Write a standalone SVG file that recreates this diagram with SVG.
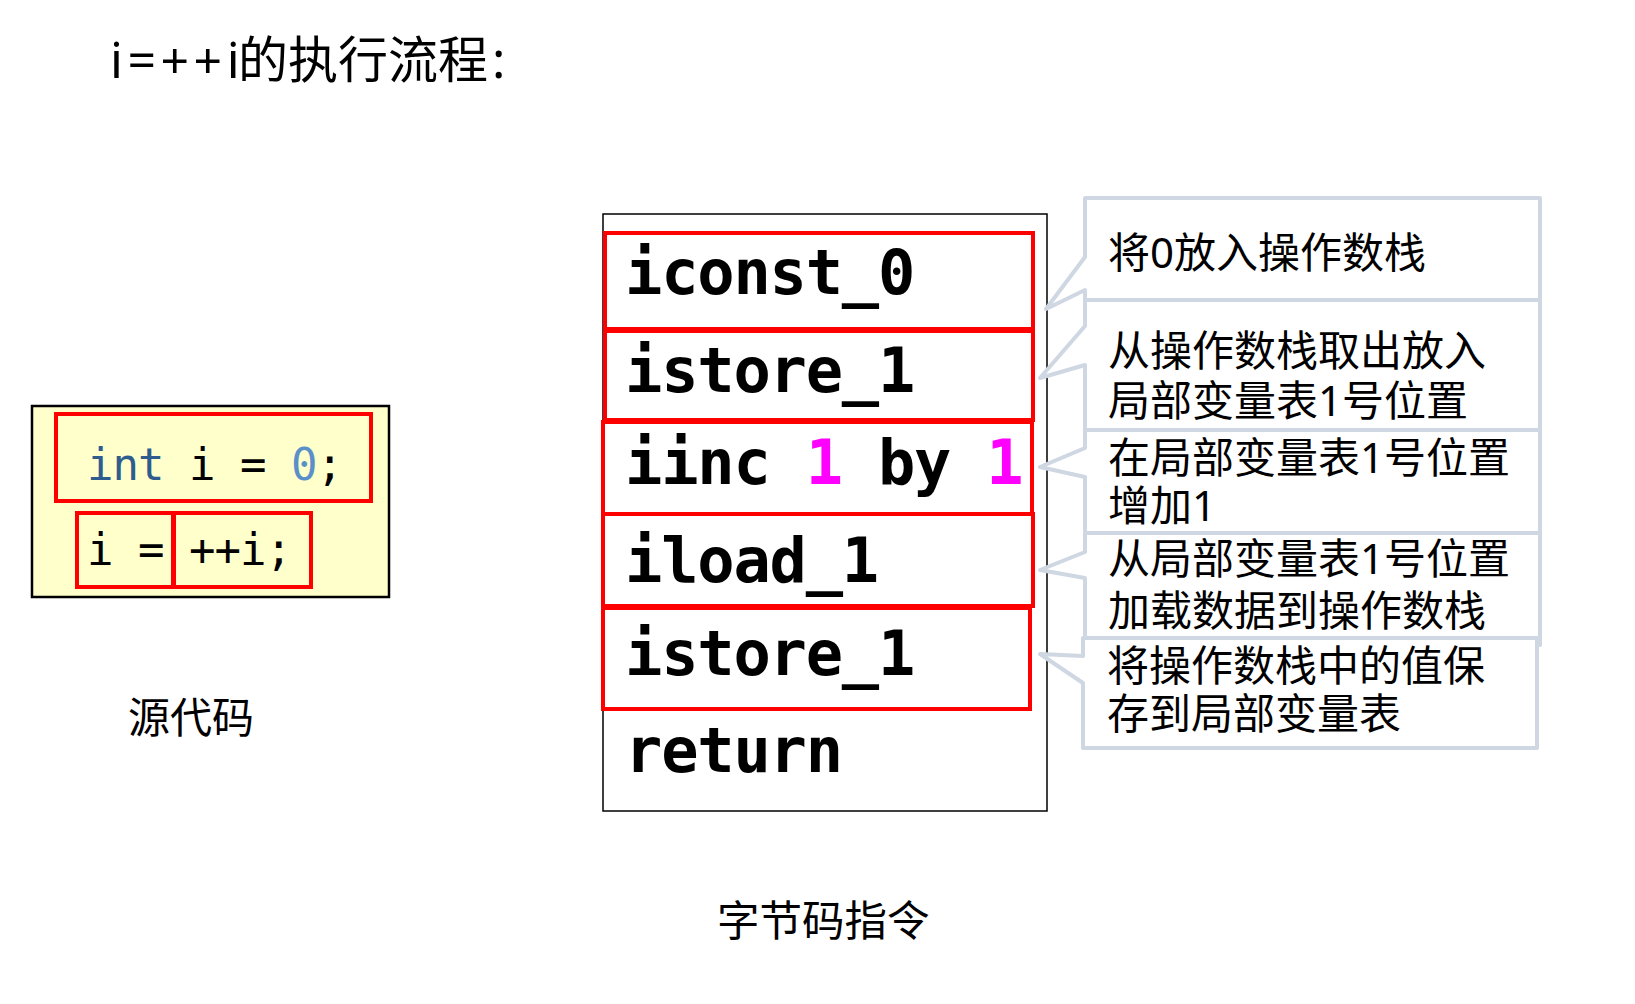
<svg xmlns="http://www.w3.org/2000/svg" width="1635" height="1004" viewBox="0 0 1635 1004">
<style>
.cjk{font-family:"Noto Sans","Noto Sans CJK SC",sans-serif;fill:#000}
.code{font-family:"DejaVu Sans Mono","Liberation Mono",monospace;font-size:44px;letter-spacing:-1px;fill:#000}
.bc{font-family:"DejaVu Sans Mono","Liberation Mono",monospace;font-size:62px;font-weight:bold;letter-spacing:-1.2px;fill:#000}
.red{fill:none;stroke:#FF0000;stroke-width:4}
.call{fill:#fff;stroke:#CFD7E2;stroke-width:4;stroke-linejoin:round}
.ct{font-family:"Noto Sans","Noto Sans CJK SC",sans-serif;font-size:42px;fill:#000}
</style>
<rect width="1635" height="1004" fill="#fff"/>
<text id="title" class="cjk" x="110" y="78" font-size="50"><tspan letter-spacing="4.5">i=++i</tspan><tspan x="238">的执行流程</tspan><tspan dx="4">:</tspan></text>

<g id="source">
  <rect x="32" y="406" width="357" height="191" fill="#FFFFCC" stroke="#000" stroke-width="2.5"/>
  <rect class="red" x="56" y="414" width="315" height="87"/>
  <rect class="red" x="77" y="513" width="97" height="74"/>
  <rect class="red" x="173" y="513" width="138" height="74"/>
  <text class="code" x="87" y="480"><tspan fill="#2E5C8E">int</tspan> i = <tspan fill="#5B8FC9">0</tspan>;</text>
  <text class="code" x="87" y="565">i = ++i;</text>
</g>
<text id="label-source" class="cjk" x="128" y="733" font-size="42">源代码</text>

<g id="bytecode">
  <rect x="603" y="214" width="444" height="597" fill="#fff" stroke="#000" stroke-width="1.5"/>
  <rect class="red" x="605" y="233" width="428" height="96"/>
  <rect class="red" x="605" y="331" width="428" height="89"/>
  <rect class="red" x="603" y="422" width="429" height="92"/>
  <rect class="red" x="603" y="514" width="430" height="92"/>
  <rect class="red" x="603" y="608" width="427" height="101"/>
  <text class="bc" x="625" y="294">iconst_0</text>
  <text class="bc" x="625" y="392">istore_1</text>
  <text class="bc" x="625" y="484">iinc <tspan fill="#FF00FF">1</tspan> by <tspan fill="#FF00FF">1</tspan></text>
  <text class="bc" x="625" y="582">iload_1</text>
  <text class="bc" x="625" y="675">istore_1</text>
  <text class="bc" x="625" y="772">return</text>
</g>
<text id="label-bytecode" class="cjk" x="717" y="936" font-size="42.5">字节码指令</text>

<g id="callouts">
  <g id="callout1">
    <path class="call" d="M1085,198 H1540 V306 H1085 V290 L1046,309 L1085,257 Z"/>
    <text class="ct" x="1108" y="268">将0放入操作数栈</text>
  </g>
  <g id="callout2">
    <path class="call" d="M1085,300 H1540 V445 H1085 V365 L1040,378 L1085,326 Z"/>
    <text class="ct" x="1108" y="366">从操作数栈取出放入</text>
    <text class="ct" x="1108" y="416">局部变量表1号位置</text>
  </g>
  <g id="callout3">
    <path class="call" d="M1085,430 H1540 V545 H1085 V477 L1040,467 L1085,448 Z"/>
    <text class="ct" x="1108" y="473">在局部变量表1号位置</text>
    <text class="ct" x="1108" y="521">增加1</text>
  </g>
  <g id="callout4">
    <path class="call" d="M1085,533 H1540 V645 H1085 V578 L1040,570 L1085,552 Z"/>
    <text class="ct" x="1108" y="574">从局部变量表1号位置</text>
    <text class="ct" x="1108" y="626">加载数据到操作数栈</text>
  </g>
  <g id="callout5">
    <path class="call" d="M1083,638 H1537 V748 H1083 V683 L1040,654 L1083,656 Z"/>
    <text class="ct" x="1107" y="681">将操作数栈中的值保</text>
    <text class="ct" x="1107" y="729">存到局部变量表</text>
  </g>
</g>
</svg>
